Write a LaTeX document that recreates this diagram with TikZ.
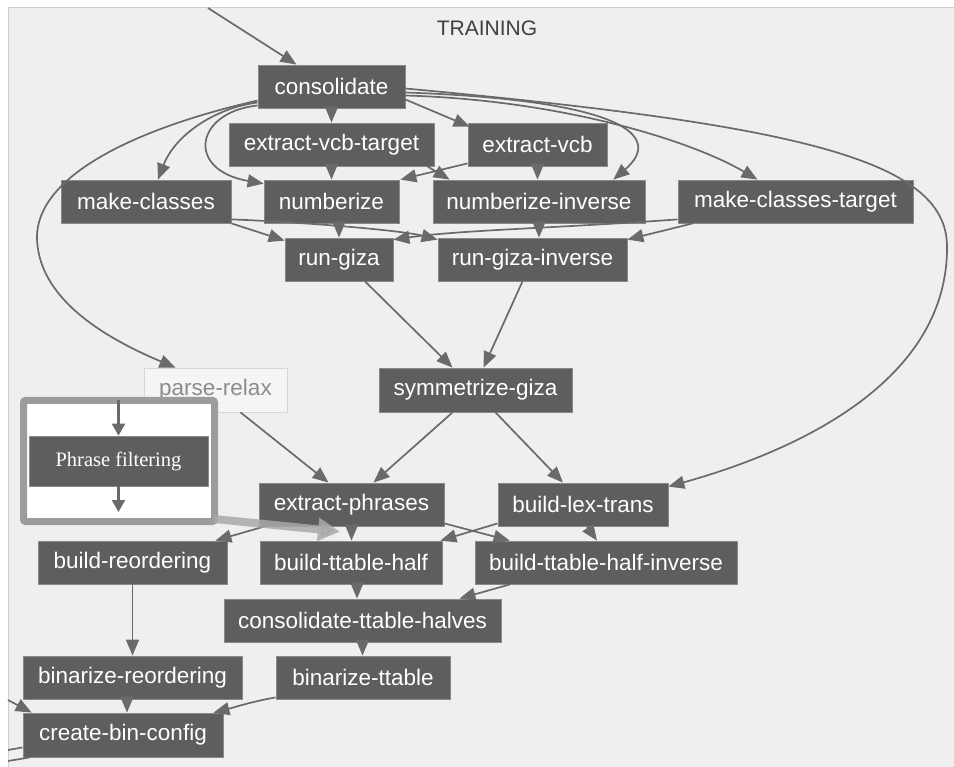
\documentclass[tikz,border=0pt]{standalone}
\usepackage{fontspec}
\setmainfont{Liberation Sans}
\newfontfamily\serifface{Liberation Serif}
\usetikzlibrary{arrows.meta}
\definecolor{panelfill}{HTML}{EFEFEF}
\definecolor{panelline}{HTML}{CFCFCF}
\definecolor{taskfill}{HTML}{5E5E5E}
\definecolor{taskline}{HTML}{8A8A8A}
\definecolor{edgecol}{HTML}{6A6A6A}
\definecolor{idlefill}{HTML}{F5F5F5}
\definecolor{idleline}{HTML}{D6D6D6}
\definecolor{idletext}{HTML}{8C8C8C}
\definecolor{insetline}{HTML}{9C9C9C}
\definecolor{hilite}{HTML}{A9A9A9}
\begin{document}
\begin{tikzpicture}[x=1pt,y=-1pt,
  task/.style={draw=taskline, line width=0.8pt, fill=taskfill, text=white,
    inner sep=0pt, minimum height=43pt,
    font=\fontsize{22.5}{26}\selectfont},
  idletask/.style={task, draw=idleline, fill=idlefill, text=idletext},
  edge/.style={draw=edgecol, line width=1.7pt,
    -{Triangle[length=16pt,width=13pt]}},
  plainedge/.style={draw=edgecol, line width=1.7pt},
  smalledge/.style={draw=edgecol, line width=2.2pt,
    -{Triangle[length=12pt,width=13pt]}},
  hiarrow/.style={draw=hilite, line width=8pt, opacity=0.85,
    -{Triangle[length=22pt,width=22pt]}},
]
\useasboundingbox (0,0) rectangle (954,767);
% cluster panel
\draw[fill=panelfill, draw=panelline, line width=1pt] (8,8) rectangle (954,767);
\node[text=black!75, font=\fontsize{21}{24}\selectfont] (title) at (487,28) {TRAINING};

% tasks
\node[task, minimum width=147pt] (cons) at (331.5,86.5) {consolidate};
\node[task, minimum width=205pt] (evt)  at (331.5,144.5) {extract-vcb-target};
\node[task, minimum width=139pt] (ev)   at (537.5,144.5) {extract-vcb};
\node[task, minimum width=170pt] (mc)   at (146,201.5) {make-classes};
\node[task, minimum width=135pt] (num)  at (331.5,201.5) {numberize};
\node[task, minimum width=212pt] (ni)   at (539,201.5) {numberize-inverse};
\node[task, minimum width=235pt] (mct)  at (795.5,201.5) {make-classes-target};
\node[task, minimum width=108pt] (rg)   at (339,259.5) {run-giza};
\node[task, minimum width=189pt] (rgi)  at (532.5,259.5) {run-giza-inverse};
\node[idletask, minimum width=143pt, minimum height=44pt] (pr) at (215.5,390) {parse-relax};
\node[task, minimum width=193pt, minimum height=44pt] (sym) at (475.5,390) {symmetrize-giza};
\node[task, minimum width=185pt] (ep)   at (351.5,504.5) {extract-phrases};
\node[task, minimum width=170pt] (blt)  at (583,504.5) {build-lex-trans};
\node[task, minimum width=189pt] (br)   at (132.5,562.5) {build-reordering};
\node[task, minimum width=182pt] (bth)  at (351,562.5) {build-ttable-half};
\node[task, minimum width=262pt] (bthi) at (606,562.5) {build-ttable-half-inverse};
\node[task, minimum width=277pt] (cth)  at (362.5,620.5) {consolidate-ttable-halves};
\node[task, minimum width=219pt] (bre)  at (132.5,677.5) {binarize-reordering};
\node[task, minimum width=174pt] (bt)   at (363,677.5) {binarize-ttable};
\node[task, minimum width=200pt, minimum height=44pt] (cbc) at (123,735) {create-bin-config};

% loose ends of edges that leave the cluster
\coordinate (fromabove) at (208,8);
\coordinate (fromleft) at (8,700);
\coordinate (toleftA) at (8,750);
\coordinate (toleftB) at (8,761);

% dependencies
\draw[edge] (fromabove) -- ([xshift=-35pt]cons.north);
\draw[edge] (cons.south) -- (evt.north);
\draw[edge] ([yshift=-13pt]cons.east) -- ([xshift=2pt,yshift=-4pt]ev.north west);
\draw[edge] ([yshift=-16pt]cons.west) .. controls (215,108) and (175,135) .. ([xshift=12pt]mc.north);
\draw[edge] ([yshift=-19pt]cons.west) .. controls (195,112) and (185,170) .. ([yshift=-4pt]num.north west);
\draw[edge] ([yshift=-14pt]cons.west) .. controls (150,125) and (40,170) .. (37,235)
  .. controls (36,300) and (110,340) .. ([xshift=-40pt]pr.north);
\draw[edge] ([yshift=-6pt]cons.east) .. controls (620,100) and (665,135) .. ([xshift=-32pt]ni.north east);
\draw[edge] ([yshift=-9pt]cons.east) .. controls (560,100) and (690,140) .. ([xshift=-38pt]mct.north);
\draw[edge] ([yshift=-2pt]cons.east) .. controls (800,125) and (945,160) .. (947,245)
  .. controls (949,380) and (800,450) .. ([yshift=-4pt]blt.north east);

\draw[edge] (evt.south) -- (num.north);
\draw[edge] ([xshift=-7pt]evt.south east) -- ([xshift=17pt]ni.north west);
\draw[edge] ([yshift=3pt]ev.south west) -- ([xshift=1pt]num.north east);
\draw[edge] (ev.south) -- (ev.south |- ni.north);

\draw[edge] (mc.south east) -- ([yshift=-3pt]rg.north west);
\draw[edge] ([yshift=4pt]mc.south east) .. controls (300,222) and (400,230) .. ([yshift=-2pt]rgi.north west);
\draw[edge] (rg.north |- num.south) -- (rg.north);
\draw[edge] (ni.south) -- (ni.south |- rgi.north);
\draw[edge] ([yshift=4pt]mct.south west) .. controls (560,228) and (460,230) .. ([yshift=-2pt]rg.north east);
\draw[edge] ([xshift=15pt]mct.south west) -- ([yshift=-2pt]rgi.north east);

\draw[edge] ([xshift=26pt]rg.south) -- ([xshift=-23pt]sym.north);
\draw[edge] ([xshift=-10pt]rgi.south) -- ([xshift=8pt]sym.north);
\draw[edge] ([xshift=25pt]pr.south) -- ([xshift=-23pt]ep.north);
\draw[edge] ([xshift=-23pt]sym.south) -- ([xshift=22pt]ep.north);
\draw[edge] ([xshift=20pt]sym.south) -- ([xshift=-20pt]blt.north);

\draw[edge] (ep.south) -- (ep.south |- bth.north);
\draw[edge] ([xshift=6pt]ep.south west) -- ([xshift=-12pt]br.north east);
\draw[edge] ([yshift=3pt]ep.south east) -- ([xshift=35pt]bthi.north west);
\draw[edge] ([yshift=3pt]blt.south west) -- ([xshift=-2pt]bth.north east);
\draw[edge] ([xshift=4pt]blt.south) -- ([xshift=-9pt]bthi.north);

\draw[edge] ([xshift=6pt]bth.south) -- ([xshift=-5.5pt]cth.north);
\draw[edge] ([xshift=-96pt]bthi.south) -- ([xshift=97pt]cth.north);
\draw[edge] (cth.south) -- (cth.south |- bt.north);
\draw[edge] (br.south) -- (bre.north);
\draw[edge] ([xshift=-5.5pt]bre.south) -- ([xshift=4pt]cbc.north);
\draw[edge] ([yshift=2pt]bt.south west) .. controls (250,702) and (232,708) .. ([xshift=-10pt]cbc.north east);
\draw[edge] (fromleft) -- ([xshift=9pt]cbc.north west);
\draw[plainedge] ([yshift=10pt]cbc.south west) -- (toleftA);
\draw[plainedge] ([xshift=7pt]cbc.south west) -- (toleftB);

% inserted phrase filtering step
\node[draw=insetline, line width=7pt, fill=white, rounded corners=2pt,
  minimum width=191pt, minimum height=121pt, inner sep=0pt] (inset) at (119,461) {};
\node[task, minimum width=179pt, minimum height=50pt,
  font=\serifface\fontsize{20.5}{24}\selectfont] (pf) at (118.5,461) {Phrase filtering};
\coordinate (pfout) at (118.5,512);
\draw[smalledge] ([yshift=-3.5pt]inset.north -| pf.north) -- (pf.north);
\draw[smalledge] (pf.south) -- (pfout);
\draw[hiarrow] ([xshift=-4pt,yshift=6pt]inset.south east) -- ([xshift=-11pt,yshift=9pt]bth.north);
\end{tikzpicture}
\end{document}
